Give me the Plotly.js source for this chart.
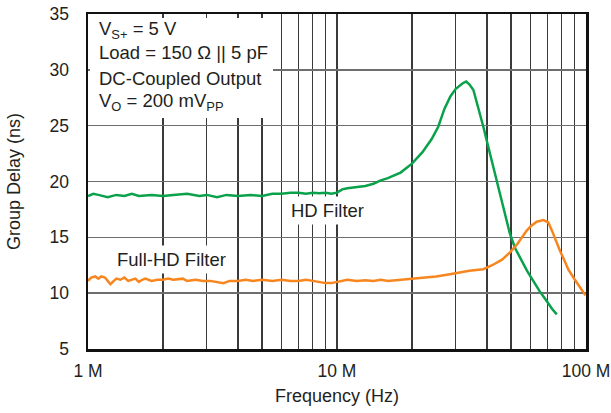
<!DOCTYPE html>
<html><head><meta charset="utf-8">
<script src="https://cdn.plot.ly/plotly-3.0.1.min.js"></script>
<style>html,body{margin:0;padding:0;background:#fff}</style>
</head><body><div id="chart" style="width:611px;height:413px"></div>
<script>
// Frequency in MHz, group delay in ns
const hdFreq = [1.0,1.05,1.1,1.2,1.3,1.4,1.5,1.6,1.8,2.0,2.2,2.5,2.8,3.0,3.3,3.6,4.0,4.5,5.0,5.5,6.0,6.5,7.0,7.5,8,8.5,9,9.5,10,10.5,11,12,13,14,15,16,18,20,22,24,25.5,27,28.5,30,32,33,34,35.3,37,38.7,40,41.8,43.5,45.2,47,49.5,52,55.2,58,61.4,65,69.5,73,76.3];
const hdDelay = [18.7,18.9,18.8,18.6,18.8,18.7,18.9,18.7,18.8,18.7,18.8,18.9,18.7,18.8,18.6,18.8,18.7,18.8,18.7,18.9,18.9,19.0,19.0,18.9,19.0,18.95,19.0,18.9,19.0,19.3,19.4,19.5,19.6,19.8,20.1,20.3,20.8,21.6,22.6,23.8,24.9,26.5,27.6,28.3,28.8,28.95,28.7,28.2,26.6,24.9,23.6,21.9,20.3,18.9,17.2,15.3,14.0,12.9,12.0,11.1,10.2,9.3,8.6,8.1];
const fhdFreq = [1.0,1.03,1.07,1.1,1.13,1.17,1.2,1.23,1.27,1.3,1.35,1.4,1.45,1.5,1.55,1.6,1.65,1.7,1.8,1.9,2.0,2.1,2.2,2.4,2.5,2.7,2.9,3.1,3.3,3.5,3.7,4.0,4.3,4.6,5.0,5.5,6.0,6.5,7.0,7.5,8.0,8.5,9.0,9.5,10,10.6,11,12,13,14,15,16,17,18,19.6,21,23,25,28.4,31,34,38.7,42,46,49.5,53,57.8,60,63.4,67.4,70.5,73,75.5,78.6,82,85,89,93,96,99.5];
const fhdDelay = [11.1,11.4,11.5,11.3,11.5,11.4,11.1,10.8,11.1,11.3,11.2,11.4,11.1,11.2,11.3,11.0,11.2,11.3,11.1,11.2,11.2,11.3,11.2,11.3,11.1,11.2,11.1,11.1,11.0,10.9,11.1,11.1,11.2,11.1,11.2,11.1,11.2,11.1,11.1,11.2,11.1,11.0,10.9,10.9,11.0,11.1,11.2,11.1,11.15,11.1,11.2,11.1,11.15,11.2,11.25,11.3,11.4,11.5,11.7,11.85,12.0,12.15,12.5,13.0,13.65,14.4,15.6,16.0,16.4,16.55,16.35,15.6,14.7,13.8,12.9,12.1,11.4,10.8,10.3,9.8];
const xTickVals = [1,2,3,4,5,6,7,8,9,10,20,30,40,50,60,70,80,90,100];
const xTickText = ['1 M','','','','','','','','','10 M','','','','','','','','','100 M'];
const infoLines = ['V<sub>S+</sub> = 5 V','Load = 150 Ω || 5 pF','DC-Coupled Output','V<sub>O</sub> = 200 mV<sub>PP</sub>'];

const font = 'Liberation Sans, Arial, Helvetica, sans-serif';
const txt = '#231f20';

const traces = [
  {x: hdFreq, y: hdDelay, type:'scatter', mode:'lines', line:{color:'#0aa14b', width:2.5}, name:'HD Filter'},
  {x: fhdFreq, y: fhdDelay, type:'scatter', mode:'lines', line:{color:'#f7861e', width:2.5}, name:'Full-HD Filter'}
];

const PL = 88, PW = 498, PB = 349, PH = 335;
const infoY = [30, 53, 78, 102];
const annotations = infoLines.map((t,i)=>({
  text:t, xref:'paper', yref:'paper', x:(97-PL)/PW, y:(PB-infoY[i])/PH,
  xanchor:'left', yanchor:'middle', showarrow:false, font:{family:font,size:18.5,color:txt}
}));
annotations.push({text:'HD Filter', xref:'paper', yref:'paper', x:(327.5-PL)/PW, y:(PB-210)/PH,
  xanchor:'center', yanchor:'middle', showarrow:false, bgcolor:'#fff', borderpad:3, font:{family:font,size:18.5,color:txt}});
annotations.push({text:'Full-HD Filter', xref:'paper', yref:'paper', x:(171.5-PL)/PW, y:(PB-259)/PH,
  xanchor:'center', yanchor:'middle', showarrow:false, bgcolor:'#fff', borderpad:3, font:{family:font,size:18.5,color:txt}});

const layout = {
  width:611, height:413,
  margin:{l:PL, r:611-PL-PW, t:PB-PH, b:413-PB},
  paper_bgcolor:'#fff', plot_bgcolor:'#fff',
  showlegend:false,
  font:{family:font, color:txt, size:17.5},
  xaxis:{type:'log', range:[0,2], tickvals:xTickVals, ticktext:xTickText,
    showgrid:true, gridcolor:'#3a3a3a', gridwidth:1.2,
    showline:true, mirror:true, linecolor:'#111', linewidth:2.5,
    ticks:'', ticklabelstandoff:4, zeroline:false,
    tickfont:{family:font,size:17.5,color:txt},
    title:{text:'Frequency (Hz)', font:{family:font,size:18,color:txt}, standoff:10}},
  yaxis:{range:[5,35], dtick:5, tick0:5,
    showgrid:true, gridcolor:'#6e6e6e', gridwidth:1.6,
    showline:true, mirror:true, linecolor:'#111', linewidth:2.5,
    ticks:'', ticklabelstandoff:13, zeroline:false,
    tickfont:{family:font,size:17.5,color:txt},
    title:{text:'Group Delay (ns)', font:{family:font,size:18,color:txt}, standoff:24}},
  shapes:[{type:'rect', xref:'paper', yref:'paper', x0:2/PW, x1:(273-PL)/PW, y0:(PB-118)/PH, y1:1-4/PH,
    fillcolor:'#fff', line:{width:0}, layer:'above'}],
  annotations: annotations
};
Plotly.newPlot('chart', traces, layout, {displayModeBar:false, staticPlot:true});
</script></body></html>
